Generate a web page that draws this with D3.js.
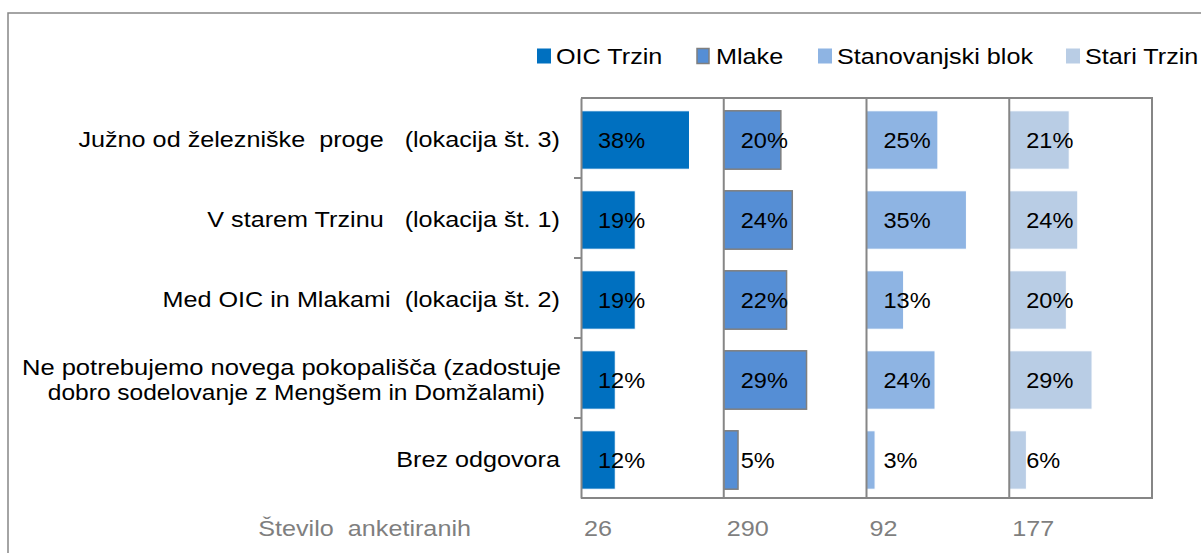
<!DOCTYPE html>
<html>
<head>
<meta charset="utf-8">
<title>Lokacija pokopališča</title>
<script src="https://d3js.org/d3.v7.min.js"></script>
<style>
  body { margin: 0; background: #fff; }
  text { font-family: "Liberation Sans", Arial, sans-serif; white-space: pre; }
</style>
</head>
<body>
<script>
// categories (rows) - multi-line labels split with "\n"
var categories = [
  "Južno od železniške  proge   (lokacija št. 3)",
  "V starem Trzinu   (lokacija št. 1)",
  "Med OIC in Mlakami  (lokacija št. 2)",
  "Ne potrebujemo novega pokopališča (zadostuje\ndobro sodelovanje z Mengšem in Domžalami)",
  "Brez odgovora"
];
var series = ["OIC Trzin", "Mlake", "Stanovanjski blok", "Stari Trzin"];
var oicTrzin = [38, 19, 19, 12, 12];
var mlake = [20, 24, 22, 29, 5];
var stanovanjskiBlok = [25, 35, 13, 24, 3];
var stariTrzin = [21, 24, 20, 29, 6];
var counts = [26, 290, 92, 177];
var countLabel = "Število  anketiranih";

var values = [oicTrzin, mlake, stanovanjskiBlok, stariTrzin];
var colors = ["#0070C0", "#558ED5", "#8EB4E3", "#B9CDE5"];
var strokes = ["#ffffff", "#7F7F7F", "#ffffff", "#ffffff"];

var W = 1201, H = 553;
var plotL = 581, plotR = 1152, plotT = 98, plotB = 498;
var grey = "#868686";
var FS = 22.5, SX = 1.12;

var svg = d3.select("body").append("svg")
  .attr("width", W)
  .attr("height", H);

// text helper: stretched a little horizontally like the original
function label(x, y, str, anchor, opts) {
  opts = opts || {};
  return svg.append("text")
    .attr("transform", "translate(" + x + "," + y + ") scale(" + (opts.sx || SX) + ",1)")
    .attr("dy", "0.36em")
    .attr("text-anchor", anchor || "start")
    .attr("font-size", opts.fs || FS)
    .attr("fill", opts.fill || "#000")
    .text(str);
}

// outer chart border
svg.append("rect")
  .attr("x", 8).attr("y", 13)
  .attr("width", 1250).attr("height", 600)
  .attr("fill", "none").attr("stroke", grey).attr("stroke-width", 1.5);

var panel = d3.scaleBand().domain(series).range([plotL, plotR]);
var y = d3.scaleBand().domain(categories).range([plotT, plotB]).paddingInner(0.27).paddingOuter(0.135);
var yGrid = d3.scaleBand().domain(categories).range([plotT, plotB]);

// bars
series.forEach(function(s, i) {
  var x = d3.scaleLinear().domain([0, 50]).range([panel(s), panel(s) + panel.bandwidth()]);
  svg.append("g").selectAll("rect")
    .data(values[i])
    .enter().append("rect")
    .attr("x", x(0))
    .attr("y", function(d, j) { return y(categories[j]) + 2; })
    .attr("width", function(d) { return x(d) - x(0); })
    .attr("height", y.bandwidth())
    .attr("fill", colors[i])
    .attr("stroke", strokes[i])
    .attr("stroke-width", i === 1 ? 1.5 : 1);
  values[i].forEach(function(d, j) {
    label(x(0) + 17, yGrid(categories[j]) + yGrid.bandwidth() / 2 + 2, d + "%", "start", { fs: 22, sx: 1.07 });
  });
});

// panel separators
svg.selectAll("line.sep")
  .data(series.slice(1))
  .enter().append("line")
  .attr("class", "sep")
  .attr("x1", function(d) { return panel(d); })
  .attr("x2", function(d) { return panel(d); })
  .attr("y1", plotT).attr("y2", plotB)
  .attr("stroke", grey).attr("stroke-width", 2);

// plot area frame (top, right, bottom)
svg.append("path")
  .attr("d", "M" + plotL + "," + plotT + "H" + plotR + "V" + plotB + "H" + plotL)
  .attr("fill", "none").attr("stroke", grey).attr("stroke-width", 2);

// left category axis
var yAxis = svg.append("g")
  .attr("transform", "translate(" + plotL + ",0)")
  .call(d3.axisLeft(yGrid).tickSize(0).tickFormat(""));
yAxis.select(".domain").attr("stroke", grey).attr("stroke-width", 2);
svg.selectAll("line.tk")
  .data(categories.slice(1))
  .enter().append("line")
  .attr("class", "tk")
  .attr("x1", plotL - 7).attr("x2", plotL)
  .attr("y1", function(d) { return yGrid(d); })
  .attr("y2", function(d) { return yGrid(d); })
  .attr("stroke", grey).attr("stroke-width", 2);

// category labels
categories.forEach(function(c) {
  var lines = c.split("\n");
  var cy = yGrid(c) + yGrid.bandwidth() / 2 + 1;
  var lh = 25;
  if (lines.length === 1) {
    label(560, cy, c, "end");
  } else {
    label(561, cy - lh / 2, lines[0], "end", { sx: 1.135 });
    label(545, cy + lh / 2, lines[1], "end", { sx: 1.09 });
  }
});

// respondent counts row
label(471, 528, countLabel, "end", { fill: "#7F7F7F" });
counts.forEach(function(d, i) {
  label(panel(series[i]) + 3, 528, String(d), "start", { fill: "#7F7F7F" });
});

// legend
var legendX = [537, 697, 818, 1066];
series.forEach(function(s, i) {
  svg.append("rect")
    .attr("x", legendX[i]).attr("y", 56 - 7.5)
    .attr("width", i === 1 ? 12 : 14)
    .attr("height", 15)
    .attr("fill", colors[i])
    .attr("stroke", i === 1 ? "#7F7F7F" : "none")
    .attr("stroke-width", 1.5);
  label(legendX[i] + 19, 56, s, "start");
});
</script>
</body>
</html>
